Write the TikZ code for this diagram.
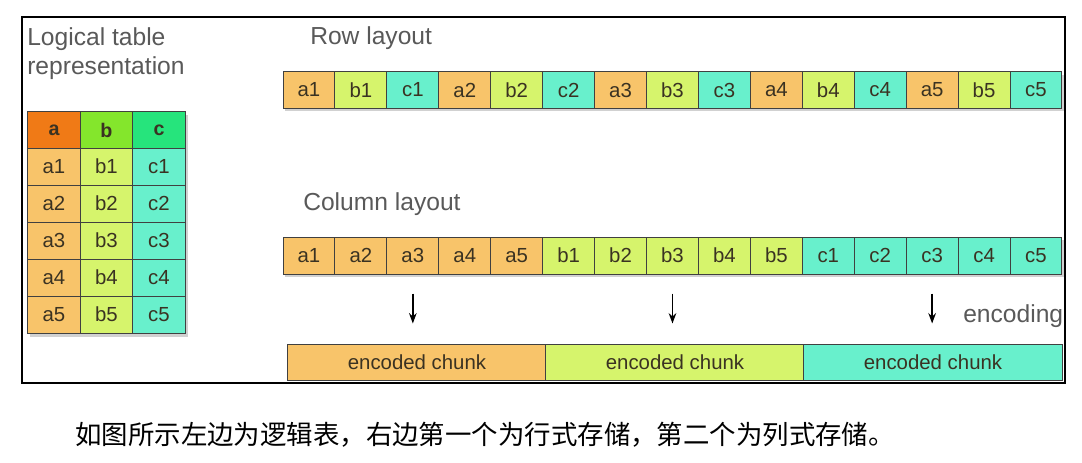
\documentclass[tikz,border=0pt]{standalone}
\usepackage{fontspec}
\setmainfont{Liberation Sans}
\newfontfamily\cjk{Noto Sans CJK SC}
\usetikzlibrary{arrows.meta,positioning}
\definecolor{aCell}{HTML}{F8C46A}
\definecolor{bCell}{HTML}{D6F46C}
\definecolor{cCell}{HTML}{68F0CC}
\definecolor{aHead}{HTML}{F07A16}
\definecolor{bHead}{HTML}{84E62C}
\definecolor{cHead}{HTML}{26E47C}
\definecolor{inkText}{HTML}{3A3222}
\begin{document}
\begin{tikzpicture}[x=0.025cm,y=-0.025cm,
  cell/.style={draw=black!75,line width=0.7pt,minimum width=1.298cm,minimum height=0.925cm,inner sep=0pt,font=\fontsize{14.5}{16}\selectfont,text=inkText},
  tcell/.style={cell,minimum width=1.308cm},
  head/.style={tcell,font=\fontsize{14}{16}\selectfont\bfseries},
  chunk/.style={cell,minimum width=6.45cm,minimum height=0.9cm},
  title/.style={font=\fontsize{17.5}{21}\selectfont,text=black!65,inner sep=0pt,align=left},
  shade/.style={fill=black!40,opacity=0.45},
  arr/.style={-{Stealth[length=2.6mm,width=1.9mm]},line width=1.1pt,shorten <=0.475cm,shorten >=0.5cm}]
\useasboundingbox (0,0) rectangle (1082,462);
\draw[line width=1.4pt] (22,17) rectangle (1065,383);
% logical table
\node[title,anchor=north west] (ttitle) at (27,27) {Logical table\\representation};
\fill[shade] (30,115) rectangle (188,337);
\foreach \col [count=\k] in {a,b,c} {
  \node[head,fill=\col Head] (t-\col) at ({54+52.5*(\k-1)},130) {\col};
  \foreach \n in {1,...,5}
    \node[tcell,fill=\col Cell] (t-\col\n) at ({54+52.5*(\k-1)},{166.5+37*(\n-1)}) {\col\n};
}
% row layout
\node[title,anchor=west] (rtitle) at (310,38) {Row layout};
\fill[shade] (285,75) rectangle (1064,111);
\foreach \n in {1,...,5}
  \foreach \col [count=\k] in {a,b,c} {
    \pgfmathtruncatemacro\i{3*(\n-1)+\k}
    \node[cell,fill=\col Cell] (row-\col\n) at ({283+51.93*(\i-0.5)},90) {\col\n};
  }
% column layout
\node[title,anchor=west] (ctitle) at (303,204) {Column layout};
\fill[shade] (285,240) rectangle (1064,277);
\foreach \col [count=\k] in {a,b,c}
  \foreach \n in {1,...,5} {
    \pgfmathtruncatemacro\i{5*(\k-1)+\n}
    \node[cell,fill=\col Cell] (col-\col\n) at ({283+51.93*(\i-0.5)},255.5) {\col\n};
  }
% encoded chunks
\node[chunk,fill=aCell] (enc-a) at (417,362) {encoded chunk};
\node[chunk,fill=bCell] (enc-b) at (675,362) {encoded chunk};
\node[chunk,fill=cCell] (enc-c) at (933,362) {encoded chunk};
\draw[arr] (col-a3.south) -- (col-a3.south |- enc-a.north);
\draw[arr] (col-b3.south) -- (col-b3.south |- enc-b.north);
\draw[arr] (col-c3.south) -- (col-c3.south |- enc-c.north);
\node[title,anchor=west] (enclabel) at (963,316) {encoding};
% caption
\node[font=\cjk\fontsize{18.8}{22}\selectfont,anchor=west,inner sep=0pt] (caption) at (75,435) {如图所示左边为逻辑表，右边第一个为行式存储，第二个为列式存储。};
\end{tikzpicture}
\end{document}
